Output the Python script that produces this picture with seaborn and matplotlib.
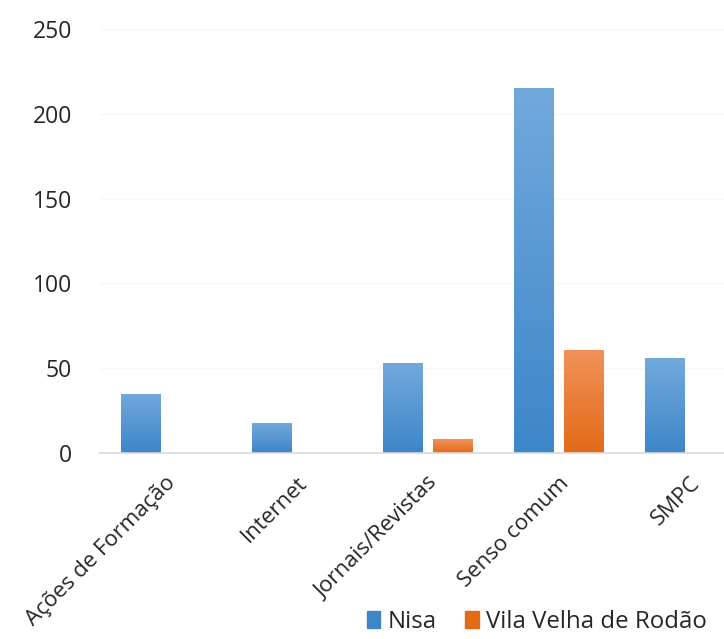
import matplotlib
matplotlib.use('Agg')
import matplotlib.pyplot as plt
import matplotlib.colors as mcolors
import seaborn as sns
import pandas as pd
import numpy as np

# data
categories = ['Ações de Formação', 'Internet', 'Jornais/Revistas', 'Senso comum', 'SMPC']
nisa = [35, 18, 53, 215, 56]
vila_velha = [0, 0, 8, 61, 0]
series_names = ['Nisa', 'Vila Velha de Rodão']

df = pd.DataFrame({
    'categoria': categories * 2,
    'valor': nisa + vila_velha,
    'serie': [series_names[0]] * len(categories) + [series_names[1]] * len(categories),
})

sns.set_theme(style='white')
plt.rcParams['font.family'] = ['Open Sans', 'DejaVu Sans']

# (top, bottom) gradient colours per series
grad = {
    series_names[0]: ('#72a9dd', '#3d86c8'),
    series_names[1]: ('#f1925a', '#e36a17'),
}
palette = {k: v[1] for k, v in grad.items()}

fig = plt.figure(figsize=(7.24, 6.39), dpi=100)
ax = fig.add_axes([0.138, 0.291, 0.905, 0.6635])

sns.barplot(data=df, x='categoria', y='valor', hue='serie', palette=palette,
            width=0.76, gap=0.2, ax=ax, legend=False, saturation=1)

# gradient fill clipped to each bar
for patch in list(ax.patches):
    h = patch.get_height()
    if h <= 0:
        patch.set_visible(False)
        continue
    fc = mcolors.to_hex(patch.get_facecolor())
    key = [k for k, v in palette.items() if v == fc][0]
    top, bot = grad[key]
    cmap = mcolors.LinearSegmentedColormap.from_list('g', [bot, top])
    x0, w = patch.get_x(), patch.get_width()
    img = np.linspace(0, 1, 100).reshape(-1, 1)
    im = ax.imshow(img, extent=[x0, x0 + w, 0, h], origin='lower', cmap=cmap,
                   aspect='auto', zorder=patch.get_zorder() + 0.1)
    im.set_clip_path(patch)

ax.set_xlim(-0.5, 4.5)
ax.set_ylim(0, 250)
ax.set_yticks([0, 50, 100, 150, 200, 250])
ax.set_xlabel('')
ax.set_ylabel('')
for s in ['top', 'right', 'left']:
    ax.spines[s].set_visible(False)
ax.spines['bottom'].set_color('#d9d9d9')
ax.spines['bottom'].set_linewidth(1.2)
ax.yaxis.grid(True, color='#f7f7f7', linewidth=1)
ax.set_axisbelow(True)
ax.tick_params(axis='both', length=0, labelsize=16.5, colors='#262626')
ax.tick_params(axis='y', pad=20)
ax.tick_params(axis='x', labelsize=16, pad=14)
plt.setp(ax.get_xticklabels(), rotation=45, ha='right', rotation_mode='anchor')

handles = [plt.Rectangle((0, 0), 1, 1, color=grad[n][1]) for n in series_names]
fig.legend(handles, series_names, loc='lower right', bbox_to_anchor=(1.006, -0.026),
           ncol=2, frameon=False, fontsize=17.3, handlelength=0.55, handleheight=0.75,
           handletextpad=0.3, columnspacing=1.2, labelcolor='#262626')

fig.savefig('out.png', dpi=100)
